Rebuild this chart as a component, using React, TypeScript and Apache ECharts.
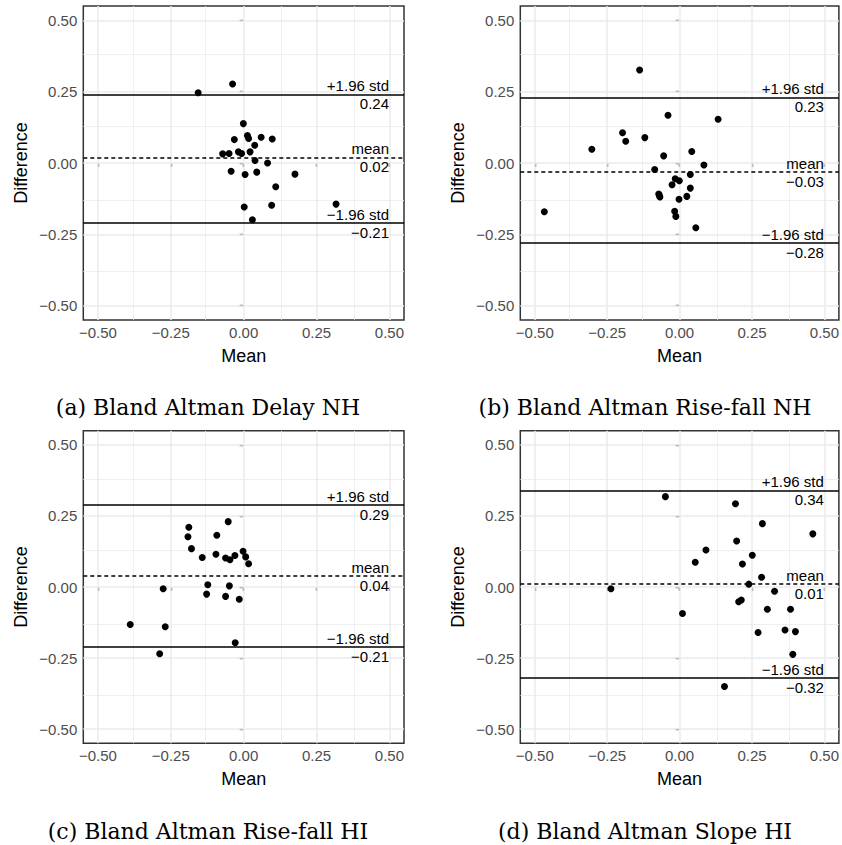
import React, { useEffect, useRef } from "react";
import * as echarts from "echarts";

const panelTitles = [
  "(a) Bland Altman Delay NH",
  "(b) Bland Altman Rise-fall NH",
  "(c) Bland Altman Rise-fall HI",
  "(d) Bland Altman Slope HI",
];

// (a) Delay NH
const delayNHMean = [-0.156, -0.038, -0.001, -0.032, 0.013, 0.017, 0.060, 0.098, 0.038, -0.072, -0.050, -0.018, -0.007, 0.022, 0.039, 0.082, -0.043, 0.005, 0.045, 0.176, 0.110, 0.317, 0.002, 0.096, 0.030];
const delayNHDiff = [0.246, 0.277, 0.138, 0.082, 0.096, 0.086, 0.090, 0.084, 0.062, 0.032, 0.033, 0.039, 0.033, 0.039, 0.009, 0.000, -0.029, -0.040, -0.032, -0.039, -0.083, -0.144, -0.154, -0.148, -0.199];
const delayNHLimits = [0.244, 0.019, -0.206];

// (b) Rise-fall NH
const riseFallNHMean = [-0.138, -0.040, 0.133, -0.197, -0.186, -0.120, -0.303, -0.055, 0.042, 0.084, -0.086, 0.037, -0.015, -0.001, -0.026, 0.037, -0.072, -0.068, -0.002, 0.025, -0.017, -0.013, 0.056, -0.467, -0.070];
const riseFallNHDiff = [0.326, 0.167, 0.153, 0.106, 0.076, 0.089, 0.048, 0.025, 0.040, -0.007, -0.023, -0.040, -0.055, -0.062, -0.076, -0.088, -0.109, -0.119, -0.127, -0.117, -0.169, -0.187, -0.227, -0.171, -0.113];
const riseFallNHLimits = [0.228, -0.026, -0.281];

// (c) Rise-fall HI
const riseFallHIMean = [-0.188, -0.191, -0.179, -0.053, -0.092, -0.142, -0.095, -0.062, -0.047, -0.030, -0.002, 0.007, 0.017, -0.276, -0.123, -0.049, -0.127, -0.062, -0.015, -0.389, -0.269, -0.029, -0.288];
const riseFallHIDiff = [0.210, 0.177, 0.135, 0.230, 0.182, 0.104, 0.115, 0.102, 0.096, 0.111, 0.126, 0.106, 0.082, -0.006, 0.008, 0.004, -0.025, -0.033, -0.043, -0.132, -0.140, -0.196, -0.235];
const riseFallHILimits = [0.294, 0.042, -0.210];

// (d) Slope HI
const slopeHIMean = [-0.049, 0.193, 0.286, 0.460, 0.197, 0.091, 0.251, 0.054, 0.217, 0.283, 0.239, 0.328, -0.237, 0.204, 0.213, 0.303, 0.383, 0.010, 0.271, 0.364, 0.400, 0.391, 0.155];
const slopeHIDiff = [0.318, 0.293, 0.223, 0.187, 0.162, 0.130, 0.112, 0.087, 0.081, 0.034, 0.010, -0.015, -0.006, -0.052, -0.046, -0.078, -0.078, -0.093, -0.160, -0.151, -0.157, -0.237, -0.350];
const slopeHILimits = [0.339, 0.009, -0.321];

const tickValues = [-0.5, -0.25, 0, 0.25, 0.5];
const minorValues = [-0.375, -0.125, 0.125, 0.375];
const limitNames = ["+1.96 std", "mean", "\u22121.96 std"];

const panels = [
  { mean: delayNHMean, diff: delayNHDiff, limits: delayNHLimits },
  { mean: riseFallNHMean, diff: riseFallNHDiff, limits: riseFallNHLimits },
  { mean: riseFallHIMean, diff: riseFallHIDiff, limits: riseFallHILimits },
  { mean: slopeHIMean, diff: slopeHIDiff, limits: slopeHILimits },
];

const SANS = "Liberation Sans";
const fmt = (v: number) => v.toFixed(2).replace("-", "\u2212");

export default function App() {
  const ref = useRef<HTMLDivElement>(null);
  useEffect(() => {
    if (!ref.current) return;
    const chart = echarts.init(ref.current, null, { renderer: "svg" });

    const grids = [
      { left: 83.3, top: 6, width: 320.7, height: 314 },
      { left: 520.3, top: 6, width: 320, height: 314 },
      { left: 83.3, top: 430.7, width: 320.7, height: 312.6 },
      { left: 520.3, top: 430.7, width: 320, height: 312.6 },
    ].map((g) => ({
      ...g,
      show: true,
      borderColor: "#333333",
      borderWidth: 1.5,
      backgroundColor: "#ffffff",
      containLabel: false,
    }));

    const axisCommon = {
      type: "value" as const,
      min: -0.55,
      max: 0.55,
      axisLine: { show: false },
      axisTick: {
        show: true,
        customValues: tickValues,
        length: 4,
        lineStyle: { color: "#333333", width: 1.3 },
      },
      axisLabel: {
        customValues: tickValues,
        formatter: (v: number) => fmt(v),
        color: "#4D4D4D",
        fontSize: 15,
        fontFamily: SANS,
      },
      splitLine: { show: false },
      minorSplitLine: { show: false },
      nameLocation: "middle" as const,
      nameTextStyle: { color: "#000", fontSize: 18, fontFamily: SANS },
    };

    const xAxis = panels.map((_, i) => ({
      ...axisCommon,
      gridIndex: i,
      name: "Mean",
      nameGap: 27,
      axisLabel: { ...axisCommon.axisLabel, margin: 5 },
    }));
    const yAxis = panels.map((_, i) => ({
      ...axisCommon,
      gridIndex: i,
      name: "Difference",
      nameGap: 53,
      axisLabel: { ...axisCommon.axisLabel, margin: 6 },
    }));

    const series: any[] = [];
    panels.forEach((p, i) => {
      const gridData: any[] = [];
      tickValues.forEach((v) => {
        gridData.push({ xAxis: v, lineStyle: { color: "#EBEBEB", width: 1.5, type: "solid" } });
        gridData.push({ yAxis: v, lineStyle: { color: "#EBEBEB", width: 1.5, type: "solid" } });
      });
      minorValues.forEach((v) => {
        gridData.push({ xAxis: v, lineStyle: { color: "#EBEBEB", width: 0.8, type: "solid" } });
        gridData.push({ yAxis: v, lineStyle: { color: "#EBEBEB", width: 0.8, type: "solid" } });
      });
      series.push({
        type: "line",
        xAxisIndex: i,
        yAxisIndex: i,
        data: [],
        silent: true,
        z: 1,
        markLine: {
          silent: true,
          z: 1,
          symbol: ["none", "none"],
          label: { show: false },
          data: gridData,
        },
      });

      const labelStyle = { color: "#000", fontSize: 15, fontFamily: SANS };
      const limitData = p.limits.map((v, j) => ({
        yAxis: v,
        lineStyle: { color: "#000", width: 1.6, type: j === 1 ? [4, 3] : "solid" },
        label: {
          show: true,
          position: "insideEndTop",
          formatter: limitNames[j],
          distance: [15, 1],
          ...labelStyle,
        },
      }));
      const valueData = p.limits.map((v) => ({
        yAxis: v,
        lineStyle: { color: "rgba(0,0,0,0)", width: 1 },
        label: {
          show: true,
          position: "insideEndBottom",
          formatter: fmt(v),
          distance: [15, 2],
          ...labelStyle,
        },
      }));
      series.push({
        type: "line",
        xAxisIndex: i,
        yAxisIndex: i,
        data: [],
        silent: true,
        z: 4,
        markLine: {
          silent: true,
          z: 4,
          symbol: ["none", "none"],
          data: limitData,
        },
      });
      series.push({
        type: "line",
        xAxisIndex: i,
        yAxisIndex: i,
        data: [],
        silent: true,
        z: 4,
        markLine: {
          silent: true,
          z: 4,
          symbol: ["none", "none"],
          data: valueData,
        },
      });

      series.push({
        type: "scatter",
        xAxisIndex: i,
        yAxisIndex: i,
        z: 3,
        symbolSize: 7,
        itemStyle: { color: "#000", opacity: 1 },
        data: p.mean.map((m, k) => [m, p.diff[k]]),
      });
    });

    const captionPos = [
      [208, 407],
      [645, 407],
      [208, 831],
      [645, 831],
    ];
    const graphic = panelTitles.map((t, i) => ({
      type: "text",
      x: captionPos[i][0],
      y: captionPos[i][1],
      style: {
        text: t,
        font: "22px 'DejaVu Serif'",
        fill: "#000",
        align: "center",
        verticalAlign: "middle",
        textAlign: "center",
        textVerticalAlign: "middle",
      },
    }));

    chart.setOption({
      animation: false,
      backgroundColor: "#ffffff",
      grid: grids,
      xAxis,
      yAxis,
      series,
      graphic,
    });
    return () => chart.dispose();
  }, []);

  return (
    <div
      ref={ref}
      style={{ position: "absolute", left: 0, top: 0, width: 842, height: 845 }}
    />
  );
}
